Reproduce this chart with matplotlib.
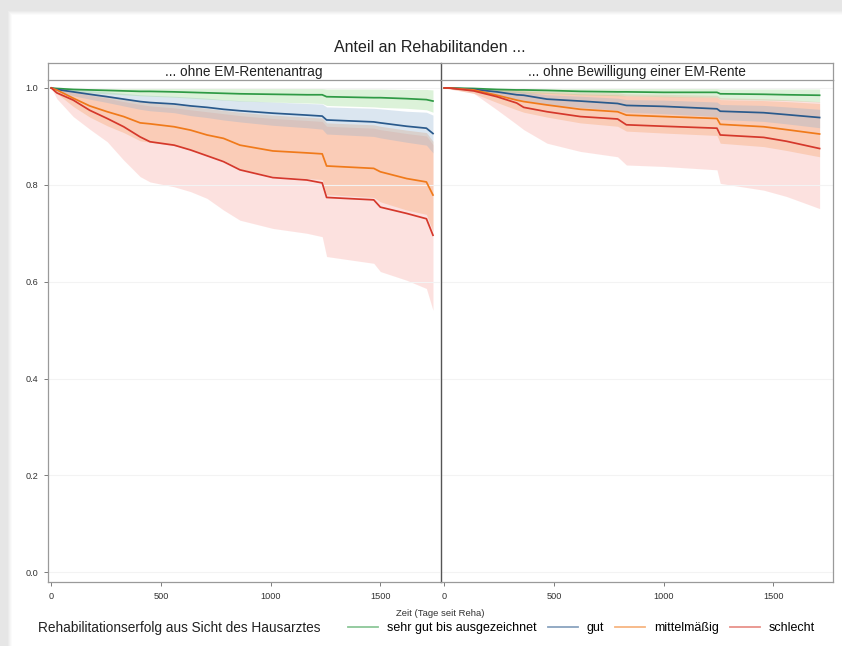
import matplotlib
matplotlib.use("Agg")
import matplotlib.pyplot as plt
from matplotlib.patches import Rectangle
from matplotlib.lines import Line2D

plt.rcParams["font.family"] = ["Liberation Sans", "DejaVu Sans"]

# ---- data ----
left_days = [0, 25, 100, 175, 255, 330, 405, 450, 560, 635, 710, 785, 860,
             1010, 1165, 1235, 1255, 1470, 1500, 1620, 1710, 1740]
left_green = [1.0, 0.999, 0.997, 0.996, 0.995, 0.994, 0.993, 0.993, 0.992, 0.991, 0.990,
              0.989, 0.988, 0.987, 0.986, 0.986, 0.982, 0.980, 0.980, 0.978, 0.976, 0.973]
left_green_lo = [1.0, 0.998, 0.993, 0.990, 0.988, 0.986, 0.984, 0.983, 0.981, 0.979, 0.977,
                 0.975, 0.973, 0.971, 0.969, 0.968, 0.964, 0.961, 0.960, 0.958, 0.955, 0.950]
left_green_hi = [1.0, 1.0, 1.0, 1.0, 1.0, 1.0, 1.0, 1.0, 1.0, 0.999, 0.999,
                 0.999, 0.999, 0.999, 0.999, 0.999, 0.998, 0.998, 0.998, 0.997, 0.997, 0.996]
left_blue = [1.0, 0.997, 0.992, 0.987, 0.982, 0.977, 0.972, 0.970, 0.967, 0.963, 0.960,
             0.956, 0.953, 0.948, 0.944, 0.942, 0.934, 0.930, 0.928, 0.921, 0.917, 0.906]
left_blue_lo = [1.0, 0.993, 0.984, 0.977, 0.970, 0.963, 0.956, 0.953, 0.949, 0.943, 0.939,
                0.934, 0.930, 0.923, 0.918, 0.915, 0.905, 0.900, 0.897, 0.888, 0.882, 0.866]
left_blue_hi = [1.0, 1.0, 0.998, 0.995, 0.992, 0.989, 0.986, 0.985, 0.983, 0.981, 0.979,
                0.976, 0.974, 0.971, 0.968, 0.967, 0.961, 0.958, 0.957, 0.952, 0.950, 0.944]
left_orange = [1.0, 0.996, 0.979, 0.963, 0.951, 0.941, 0.928, 0.926, 0.920, 0.913, 0.903,
               0.896, 0.882, 0.870, 0.866, 0.864, 0.839, 0.834, 0.827, 0.813, 0.806, 0.779]
left_orange_lo = [1.0, 0.989, 0.962, 0.940, 0.922, 0.908, 0.891, 0.888, 0.881, 0.872, 0.860,
                  0.851, 0.833, 0.818, 0.813, 0.811, 0.780, 0.774, 0.765, 0.748, 0.739, 0.704]
left_orange_hi = [1.0, 1.0, 0.995, 0.990, 0.985, 0.979, 0.973, 0.970, 0.966, 0.962, 0.958,
                  0.954, 0.950, 0.944, 0.940, 0.938, 0.928, 0.924, 0.921, 0.913, 0.908, 0.890]
left_red = [1.0, 0.990, 0.975, 0.954, 0.937, 0.920, 0.899, 0.889, 0.882, 0.872, 0.860,
            0.848, 0.831, 0.815, 0.810, 0.804, 0.774, 0.769, 0.754, 0.741, 0.730, 0.696]
left_red_lo = [1.0, 0.978, 0.941, 0.915, 0.889, 0.851, 0.817, 0.806, 0.796, 0.786, 0.772,
               0.748, 0.727, 0.710, 0.700, 0.693, 0.652, 0.638, 0.621, 0.603, 0.586, 0.541]
left_red_hi = [1.0, 0.998, 0.992, 0.985, 0.979, 0.972, 0.966, 0.963, 0.959, 0.955, 0.951,
               0.947, 0.943, 0.937, 0.933, 0.931, 0.921, 0.917, 0.914, 0.906, 0.901, 0.883]

right_days = [0, 20, 134, 240, 330, 362, 468, 620, 790, 830, 1000, 1243, 1258, 1456, 1560, 1711]
right_green = [1.0, 1.0, 0.999, 0.997, 0.996, 0.996, 0.995, 0.993, 0.992, 0.992, 0.991,
               0.991, 0.988, 0.987, 0.986, 0.985]
right_green_lo = [1.0, 1.0, 0.997, 0.993, 0.991, 0.990, 0.989, 0.986, 0.984, 0.984, 0.982,
                  0.981, 0.977, 0.975, 0.974, 0.971]
right_green_hi = [1.0, 1.0, 1.0, 1.0, 1.0, 1.0, 0.999, 0.999, 0.999, 0.999, 0.999,
                  0.999, 0.998, 0.998, 0.998, 0.998]
right_blue = [1.0, 1.0, 0.997, 0.992, 0.986, 0.985, 0.977, 0.973, 0.968, 0.964, 0.962,
              0.957, 0.952, 0.949, 0.945, 0.939]
right_blue_lo = [1.0, 1.0, 0.993, 0.985, 0.977, 0.975, 0.966, 0.960, 0.954, 0.950, 0.947,
                 0.941, 0.935, 0.931, 0.926, 0.918]
right_blue_hi = [1.0, 1.0, 1.0, 0.997, 0.993, 0.992, 0.986, 0.983, 0.979, 0.976, 0.975,
                 0.971, 0.966, 0.964, 0.961, 0.956]
right_orange = [1.0, 1.0, 0.996, 0.985, 0.975, 0.972, 0.965, 0.956, 0.951, 0.944, 0.941,
                0.937, 0.925, 0.920, 0.914, 0.905]
right_orange_lo = [1.0, 0.999, 0.989, 0.970, 0.955, 0.950, 0.940, 0.928, 0.921, 0.911, 0.907,
                   0.902, 0.886, 0.879, 0.871, 0.858]
right_orange_hi = [1.0, 1.0, 1.0, 0.998, 0.995, 0.994, 0.991, 0.988, 0.986, 0.984, 0.983,
                   0.981, 0.976, 0.974, 0.972, 0.968]
right_red = [1.0, 1.0, 0.994, 0.982, 0.969, 0.960, 0.951, 0.941, 0.936, 0.924, 0.921,
             0.917, 0.903, 0.898, 0.890, 0.875]
right_red_lo = [1.0, 0.998, 0.989, 0.955, 0.925, 0.914, 0.886, 0.869, 0.858, 0.841, 0.838,
                0.831, 0.803, 0.789, 0.776, 0.751]
right_red_hi = [1.0, 1.0, 1.0, 0.999, 0.997, 0.996, 0.994, 0.992, 0.990, 0.988, 0.987,
                0.985, 0.980, 0.978, 0.976, 0.972]

groups = ["sehr gut bis ausgezeichnet", "gut", "mittelmäßig", "schlecht"]
panel_titles = ["... ohne EM-Rentenantrag", "... ohne Bewilligung einer EM-Rente"]
x_ticks = [0, 500, 1000, 1500]
y_ticks = [0.0, 0.2, 0.4, 0.6, 0.8, 1.0]

line_colors = ["#2f9a45", "#2a5a8c", "#f07a1a", "#d5382b"]
band_colors = ["#8ed784", "#8aafd0", "#f69c5b", "#f78b83"]
band_alpha = [0.3, 0.3, 0.3, 0.25]

W, H = 842, 646
fig = plt.figure(figsize=(W / 100, H / 100), dpi=100, facecolor="#e6e6e6")

# page card with a soft shadow
for i, g in enumerate(["#ebebeb", "#f1f1f1", "#f6f6f6", "#fbfbfb"]):
    fig.patches.append(Rectangle(((8 + i) / W, 0), 1, (H - 11 - i) / H,
                                 transform=fig.transFigure, facecolor=g,
                                 edgecolor="none", zorder=-10 + i))
fig.patches.append(Rectangle((12 / W, 0), 1, (H - 15) / H, transform=fig.transFigure,
                             facecolor="white", edgecolor="none", zorder=-5))

panels = [
    (left_days, [(left_green, left_green_lo, left_green_hi),
                 (left_blue, left_blue_lo, left_blue_hi),
                 (left_orange, left_orange_lo, left_orange_hi),
                 (left_red, left_red_lo, left_red_hi)]),
    (right_days, [(right_green, right_green_lo, right_green_hi),
                  (right_blue, right_blue_lo, right_blue_hi),
                  (right_orange, right_orange_lo, right_orange_hi),
                  (right_red, right_red_lo, right_red_hi)]),
]

ax_left = [48, 441]
ax_w = 392
ax_top, ax_bot, strip_top = 80, 582, 63
spine_c = "#9a9a9a"
divider_c = "#555555"

for p, (days, series) in enumerate(panels):
    ax = fig.add_axes([ax_left[p] / W, (H - ax_bot) / H, ax_w / W, (ax_bot - ax_top) / H])
    ax.set_facecolor("white")
    for k in [3, 2, 1, 0]:
        s, lo, hi = series[k]
        ax.fill_between(days, lo, hi, color=band_colors[k], alpha=band_alpha[k],
                        linewidth=0, zorder=1)
    for k in [0, 1, 2, 3]:
        s, lo, hi = series[k]
        ax.plot(days, s, color=line_colors[k], linewidth=1.25, zorder=3)
    ax.set_xlim(-15, 1772)
    ax.set_ylim(-0.02, 1.0165)
    ax.set_xticks(x_ticks)
    ax.set_yticks(y_ticks)
    ax.grid(axis="y", color="#f3f3f3", linewidth=0.8, zorder=0)
    ax.tick_params(axis="both", labelsize=6.6, colors="#666666", labelcolor="#333333",
                   length=3, width=0.6, pad=4)
    ax.tick_params(axis="y", which="both", left=(p == 0), labelleft=(p == 0))
    ax.set_yticklabels([f"{v:.1f}" for v in y_ticks])
    for side in ["left", "right", "bottom", "top"]:
        ax.spines[side].set_color(spine_c)
        ax.spines[side].set_linewidth(0.9)
    ax.spines["top"].set_visible(False)
    if p == 0:
        ax.spines["right"].set_visible(False)
    else:
        ax.spines["left"].set_color(divider_c)
        ax.spines["left"].set_linewidth(1.0)

    # strip header
    sx = fig.add_axes([ax_left[p] / W, (H - ax_top) / H, ax_w / W, (ax_top - strip_top) / H])
    sx.set_xticks([])
    sx.set_yticks([])
    sx.set_facecolor("white")
    for side in sx.spines:
        sx.spines[side].set_color(spine_c)
        sx.spines[side].set_linewidth(0.9)
    if p == 0:
        sx.spines["right"].set_visible(False)
    else:
        sx.spines["left"].set_color(divider_c)
        sx.spines["left"].set_linewidth(1.0)
    sx.text(0.5, 0.45, panel_titles[p], ha="center", va="center", fontsize=9.8,
            color="#222222", transform=sx.transAxes)

fig.text(430 / W, 1 - 48 / H, "Anteil an Rehabilitanden ...", ha="center", va="center",
         fontsize=11.5, color="#222222")
fig.text(440 / W, 1 - 613 / H, "Zeit (Tage seit Reha)", ha="center", va="center",
         fontsize=6.8, color="#333333")
fig.text(38 / W, 1 - 628 / H, "Rehabilitationserfolg aus Sicht des Hausarztes",
         ha="left", va="center", fontsize=9.8, color="#222222")

handles = [Line2D([], [], color=c, linewidth=1.3, alpha=0.55) for c in line_colors]
fig.legend(handles, groups, loc="center left", bbox_to_anchor=(348 / W, 1 - 628 / H),
           ncol=4, frameon=False, fontsize=9.0, handlelength=2.4, handletextpad=0.7,
           columnspacing=0.9, borderpad=0, borderaxespad=0)

fig.savefig("out.png", dpi=100, facecolor=fig.get_facecolor())
